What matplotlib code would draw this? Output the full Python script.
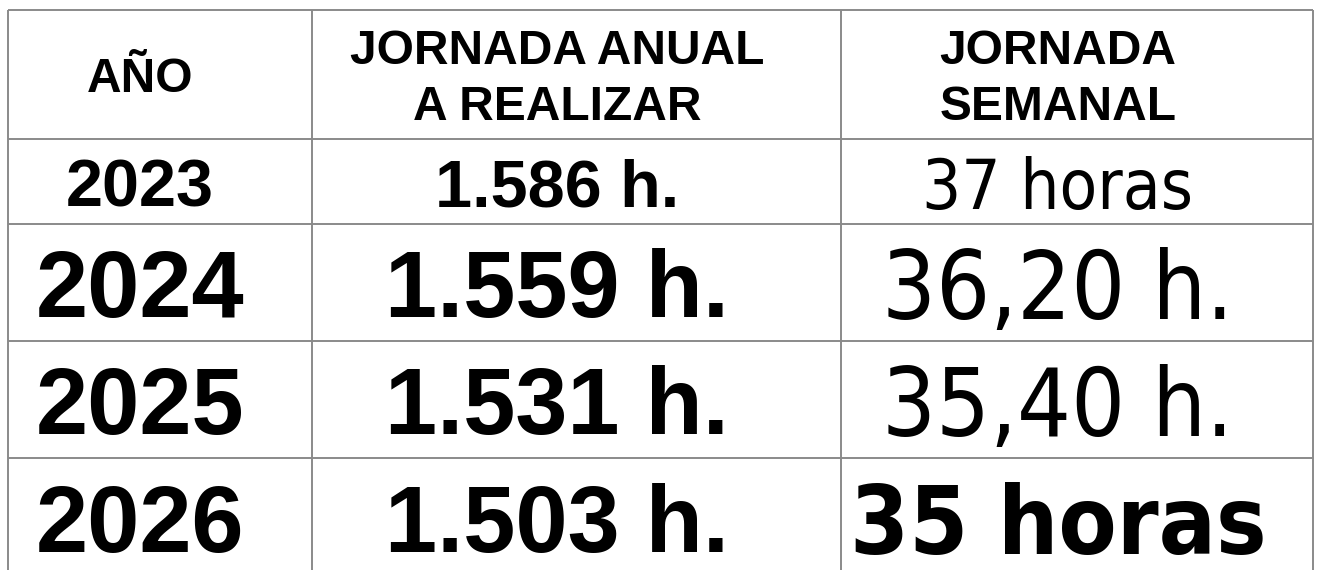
import matplotlib.pyplot as plt

# table content
headers = [["AÑO"], ["JORNADA ANUAL", "A REALIZAR"], ["JORNADA", "SEMANAL"]]
years = ["2023", "2024", "2025", "2026"]
annual = ["1.586 h.", "1.559 h.", "1.531 h.", "1.503 h."]
weekly = ["37 horas", "36,20 h.", "35,40 h.", "35 horas"]

# layout in pixels
col_edges = [8, 312, 841, 1313]
row_edges = [10, 139, 224, 341, 458, 577]
col_x = [140, 557, 1058]
arial = "Liberation Sans"
tahoma = "DejaVu Sans"

fig = plt.figure(figsize=(13.18, 5.70), dpi=100)
ax = fig.add_axes([0, 0, 1, 1])
ax.set_xlim(0, 1318)
ax.set_ylim(570, 0)
ax.axis("off")

line_kw = dict(color="#8a8a8a", lw=1.4)
ax.hlines(row_edges, col_edges[0], col_edges[-1], **line_kw)
ax.vlines(col_edges, row_edges[0], row_edges[-1], **line_kw)

# header
hc = (row_edges[0] + row_edges[1]) / 2
hsize = 34.5
for x, lines in zip(col_x, headers):
    if len(lines) == 1:
        ax.text(x, hc + 17, lines[0], ha="center", va="baseline",
                family=arial, weight="bold", fontsize=hsize)
    else:
        for k, t in enumerate(lines):
            ax.text(x, hc - 11 + k * 56, t, ha="center", va="baseline",
                    family=arial, weight="bold", fontsize=hsize)

# body rows
for i in range(len(years)):
    top, bot = row_edges[i + 1], row_edges[i + 2]
    c = (top + bot) / 2
    if i == 0:
        s, s3, w3 = 48, 49.5, "normal"
    elif i == len(years) - 1:
        s, s3, w3 = 67.5, 68, "bold"
    else:
        s, s3, w3 = 67.5, 68, "normal"
    base = c + 0.36 * s / 0.72 + 1
    ax.text(col_x[0], base, years[i], ha="center", va="baseline",
            family=arial, weight="bold", fontsize=s)
    ax.text(col_x[1], base, annual[i], ha="center", va="baseline",
            family=arial, weight="bold", fontsize=s)
    ax.text(col_x[2], base + 2, weekly[i], ha="center", va="baseline",
            family=tahoma, weight=w3, fontstretch="condensed", fontsize=s3)

fig.savefig("out.png", dpi=100)
